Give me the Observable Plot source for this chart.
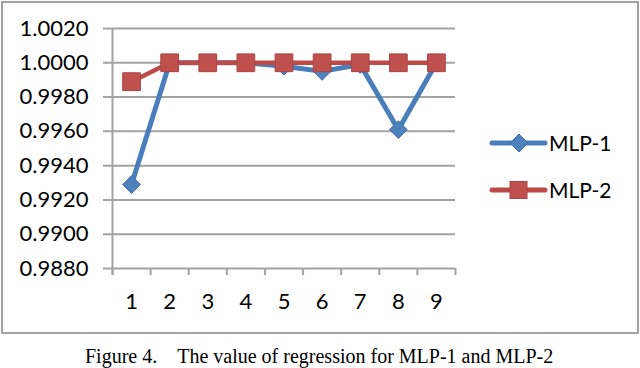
<!DOCTYPE html>
<html>
<head>
<meta charset="utf-8">
<script src="https://cdn.jsdelivr.net/npm/d3@7"></script>
<script src="https://cdn.jsdelivr.net/npm/@observablehq/plot@0.6"></script>
<style>
  html, body { margin: 0; padding: 0; background: #fff; }
  #page { position: relative; width: 640px; height: 368px; overflow: hidden; }
  #chart { position: absolute; left: 0; top: 0; }
  #frame { position: absolute; left: 1px; top: 1px; width: 634px; height: 329px; border: 2px solid #a3a3a3; box-sizing: content-box; pointer-events: none; }
  #legend { position: absolute; left: 488px; top: 124px; }
  #caption { position: absolute; left: 85px; top: 346px; font-family: "Liberation Serif", "Times New Roman", serif; font-size: 20px; line-height: 20px; white-space: pre; color: #000; }
</style>
</head>
<body>
<div id="page">
  <div id="chart"></div>
  <div id="frame"></div>
  <div id="legend"></div>
  <div id="caption"></div>
</div>
<script>
const categories = [1, 2, 3, 4, 5, 6, 7, 8, 9];
const mlp1 = [0.9929, 1.0000, 1.0000, 1.0000, 0.9998, 0.9995, 0.9999, 0.9961, 1.0000];
const mlp2 = [0.9989, 1.0000, 1.0000, 1.0000, 1.0000, 1.0000, 1.0000, 1.0000, 1.0000];
const yTicks = [0.988, 0.990, 0.992, 0.994, 0.996, 0.998, 1.000, 1.002];
const seriesNames = ["MLP-1", "MLP-2"];
const captionText = "Figure 4.\u2003The value of regression for MLP-1 and MLP-2";

const blueLine = "#4a7ebb", blueFill = "#4f81bd", blueEdge = "#3f6fa8";
const redLine = "#be4b48", redFill = "#c0504d", redEdge = "#a94542";
const gridColor = "#a3a3a3";

const d1 = categories.map((c, i) => ({x: c, y: mlp1[i]}));
const d2 = categories.map((c, i) => ({x: c, y: mlp2[i]}));
const boundaries = [...categories.map(c => c - 0.5), categories[categories.length - 1] + 0.5];

const chart = Plot.plot({
  width: 640,
  height: 334,
  marginLeft: 112,
  marginRight: 185,
  marginTop: 28,
  marginBottom: 66,
  style: {fontFamily: "Lato, sans-serif", background: "transparent"},
  x: {type: "linear", domain: [boundaries[0], boundaries[boundaries.length - 1]], label: null},
  y: {domain: [yTicks[0], yTicks[yTicks.length - 1]], label: null},
  marks: [
    Plot.ruleY(yTicks, {y: d => d, stroke: gridColor, strokeWidth: 2, insetLeft: -9}),
    Plot.axisX({ticks: boundaries, tickSize: 7, tickFormat: () => "", label: null, stroke: gridColor, strokeWidth: 2, strokeOpacity: 1}),
    Plot.ruleX([boundaries[0]], {stroke: gridColor, strokeWidth: 2, insetBottom: -7}),
    Plot.axisX({ticks: categories, tickSize: 0, tickPadding: 25, tickFormat: d => String(d), label: null, fontSize: 22, fill: "#000"}),
    Plot.axisY({ticks: yTicks, tickSize: 0, tickPadding: 24, tickFormat: d3.format(".4f"), label: null, fontSize: 22, fill: "#000"}),
    Plot.line(d1, {x: "x", y: "y", stroke: blueLine, strokeWidth: 5, strokeLinejoin: "round", strokeLinecap: "round"}),
    Plot.dot(d1, {x: "x", y: "y", symbol: "diamond2", r: 8, fill: blueFill, stroke: blueEdge, strokeWidth: 1}),
    Plot.line(d2, {x: "x", y: "y", stroke: redLine, strokeWidth: 4.5, strokeLinejoin: "round", strokeLinecap: "round"}),
    Plot.dot(d2, {x: "x", y: "y", symbol: "square", r: 10, fill: redFill, stroke: redEdge, strokeWidth: 1})
  ]
});
chart.style.overflow = "visible";
document.getElementById("chart").appendChild(chart);

// Legend
const lg = d3.select("#legend").append("svg").attr("width", 150).attr("height", 90);
const legendItems = [
  {name: seriesNames[0], line: blueLine, fill: blueFill, edge: blueEdge, sym: "diamond"},
  {name: seriesNames[1], line: redLine, fill: redFill, edge: redEdge, sym: "square"}
];
legendItems.forEach((it, i) => {
  const cy = 19 + i * 47;
  const g = lg.append("g").attr("transform", `translate(0,${cy})`);
  g.append("line").attr("x1", 4).attr("x2", 57).attr("y1", 0).attr("y2", 0)
    .attr("stroke", it.line).attr("stroke-width", 5).attr("stroke-linecap", "round");
  if (it.sym === "diamond") {
    g.append("path").attr("d", "M31,-9L40,0L31,9L22,0Z").attr("fill", it.fill).attr("stroke", it.edge);
  } else {
    g.append("rect").attr("x", 22).attr("y", -8.5).attr("width", 17).attr("height", 17).attr("fill", it.fill).attr("stroke", it.edge);
  }
  g.append("text").attr("x", 61).attr("y", 0).attr("dy", "0.36em")
    .attr("font-family", "Lato, sans-serif").attr("font-size", 21).attr("fill", "#000").text(it.name);
});

document.getElementById("caption").textContent = captionText;
</script>
</body>
</html>
